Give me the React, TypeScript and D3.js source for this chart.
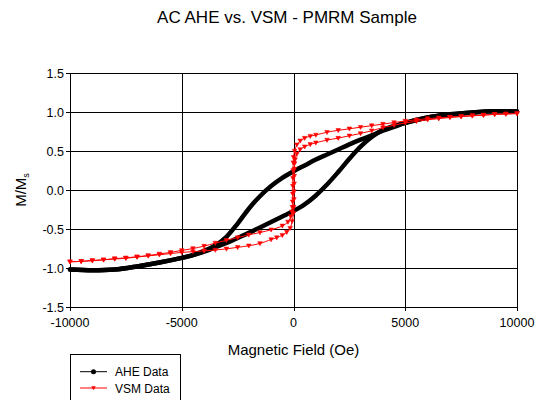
import React from "react";
import * as d3 from "d3";

const title = "AC AHE vs. VSM - PMRM Sample";
const xTicks = [-10000, -5000, 0, 5000, 10000];
const yTicks = [-1.5, -1.0, -0.5, 0.0, 0.5, 1.0, 1.5];

// AHE data: descending branch (field from +10000 to -10000)
const aheDownH = [10000, 9000, 8000, 7000, 6000, 5000, 4500, 4000, 3500, 3000, 2500, 2000, 1500, 1000, 500, 0, -500, -1000, -1500, -2000, -2500, -3000, -3500, -4000, -4500, -5000, -6000, -7000, -8000, -9000, -10000];
const aheDownM = [1.005, 1.01, 0.995, 0.97, 0.93, 0.86, 0.81, 0.76, 0.7, 0.645, 0.585, 0.52, 0.455, 0.39, 0.315, 0.24, 0.155, 0.05, -0.08, -0.24, -0.43, -0.6, -0.71, -0.78, -0.835, -0.87, -0.93, -0.98, -1.02, -1.03, -1.02];
// AHE data: ascending branch (field from -10000 to +10000)
const aheUpH = [-10000, -9000, -8000, -7000, -6000, -5000, -4500, -4000, -3500, -3000, -2500, -2000, -1500, -1000, -500, 0, 500, 1000, 1500, 2000, 2500, 3000, 3500, 4000, 4500, 5000, 6000, 7000, 8000, 9000, 10000];
const aheUpM = [-1.02, -1.03, -1.02, -0.98, -0.93, -0.87, -0.835, -0.79, -0.735, -0.68, -0.615, -0.55, -0.48, -0.41, -0.34, -0.27, -0.185, -0.07, 0.07, 0.23, 0.4, 0.555, 0.68, 0.77, 0.82, 0.86, 0.93, 0.97, 0.995, 1.01, 1.005];

// VSM data: descending branch
const vsmDownH = [10000, 9500, 9000, 8500, 8000, 7500, 7000, 6500, 6000, 5500, 5000, 4500, 4000, 3500, 3000, 2500, 2000, 1500, 1000, 750, 500, 300, 150, 50, 0, -10, -20, -25, -30, -35, -40, -50, -70, -120, -250, -500, -1000, -1500, -2000, -2500, -3000, -3500, -4000, -4500, -5000, -5500, -6000, -6500, -7000, -7500, -8000, -8500, -9000, -9500, -10000];
const vsmDownM = [0.98, 0.975, 0.97, 0.96, 0.955, 0.945, 0.935, 0.925, 0.915, 0.9, 0.885, 0.865, 0.845, 0.825, 0.805, 0.785, 0.765, 0.74, 0.705, 0.69, 0.665, 0.63, 0.58, 0.5, 0.42, 0.35, 0.25, 0.15, 0.05, -0.05, -0.15, -0.22, -0.28, -0.34, -0.41, -0.46, -0.51, -0.545, -0.575, -0.61, -0.645, -0.68, -0.72, -0.75, -0.775, -0.8, -0.82, -0.84, -0.855, -0.87, -0.88, -0.895, -0.905, -0.915, -0.92];
// VSM data: ascending branch
const vsmUpH = [-10000, -9500, -9000, -8500, -8000, -7500, -7000, -6500, -6000, -5500, -5000, -4500, -4000, -3500, -3000, -2500, -2000, -1500, -1000, -750, -500, -300, -150, -60, 0, 10, 20, 25, 30, 35, 40, 50, 70, 150, 300, 500, 750, 1000, 1500, 2000, 2500, 3000, 3500, 4000, 4500, 5000, 5500, 6000, 6500, 7000, 7500, 8000, 8500, 9000, 9500, 10000];
const vsmUpM = [-0.92, -0.915, -0.905, -0.895, -0.885, -0.875, -0.86, -0.845, -0.83, -0.815, -0.8, -0.79, -0.78, -0.77, -0.755, -0.735, -0.715, -0.685, -0.635, -0.61, -0.58, -0.54, -0.49, -0.4, -0.3, -0.22, -0.12, -0.02, 0.08, 0.18, 0.27, 0.34, 0.39, 0.46, 0.52, 0.555, 0.585, 0.605, 0.64, 0.665, 0.695, 0.725, 0.76, 0.8, 0.83, 0.86, 0.88, 0.9, 0.915, 0.93, 0.94, 0.95, 0.96, 0.97, 0.975, 0.98];

const legendLabels = ["AHE Data", "VSM Data"];

const W = 537;
const H = 400;
const margin = { left: 70, right: 20, top: 73, bottom: 93 };
const FONT = "'Liberation Sans', Arial, sans-serif";

type P = [number, number];

export default function App() {
  const x = d3.scaleLinear().domain([-10000, 10000]).range([margin.left, W - margin.right]);
  const y = d3.scaleLinear().domain([-1.5, 1.5]).range([H - margin.bottom, margin.top]);
  const line = d3
    .line<P>()
    .x((d) => x(d[0]))
    .y((d) => y(d[1]))
    .curve(d3.curveCatmullRom.alpha(0.5));

  const zip = (a: number[], b: number[]): P[] => a.map((v, i) => [v, b[i]]);
  const aheDown = zip(aheDownH, aheDownM);
  const aheUp = zip(aheUpH, aheUpM);
  const vsmDown = zip(vsmDownH, vsmDownM);
  const vsmUp = zip(vsmUpH, vsmUpM);

  const tri = (cx: number, cy: number) =>
    `M${cx - 2.3},${cy - 1.8}L${cx + 2.3},${cy - 1.8}L${cx},${cy + 2.3}Z`;

  const x0 = margin.left;
  const x1 = W - margin.right;
  const y0 = margin.top;
  const y1 = H - margin.bottom;

  return (
    <svg
      width={W}
      height={H}
      style={{ position: "absolute", left: 0, top: 0, background: "#fff" }}
      fontFamily={FONT}
    >
      <text x={287} y={22.7} textAnchor="middle" fontSize={17} fill="#000">
        {title}
      </text>

      {/* grid */}
      <g shapeRendering="crispEdges" stroke="#000" strokeWidth={1}>
        {yTicks.map((t) => (
          <line key={"gy" + t} x1={x0 - 4} x2={x1} y1={Math.round(y(t)) + 0.5} y2={Math.round(y(t)) + 0.5} />
        ))}
        {xTicks.map((t) => (
          <line key={"gx" + t} x1={Math.round(x(t)) + 0.5} x2={Math.round(x(t)) + 0.5} y1={y0} y2={y1 + 4} />
        ))}
      </g>

      {/* y tick labels */}
      {yTicks.map((t) => (
        <text key={"ty" + t} x={64} y={y(t) + 4.8} textAnchor="end" fontSize={12.5} fill="#000">
          {t.toFixed(1)}
        </text>
      ))}
      {/* x tick labels */}
      {xTicks.map((t) => (
        <text key={"tx" + t} x={x(t)} y={326.5} textAnchor="middle" fontSize={12.5} fill="#000">
          {String(t)}
        </text>
      ))}

      <text x={(x0 + x1) / 2} y={355} textAnchor="middle" fontSize={15} fill="#000">
        Magnetic Field (Oe)
      </text>
      <text transform={`translate(25.5,${(y0 + y1) / 2}) rotate(-90)`} textAnchor="middle" fontSize={15} fill="#000">
        M/M<tspan fontSize={9} dy={3}>s</tspan>
      </text>

      {/* AHE */}
      <g>
        <path d={line(aheDown) || ""} fill="none" stroke="#000" strokeWidth={4.5} strokeLinejoin="round" strokeLinecap="round" />
        <path d={line(aheUp) || ""} fill="none" stroke="#000" strokeWidth={4.5} strokeLinejoin="round" strokeLinecap="round" />
      </g>

      {/* VSM */}
      <g>
        <path d={line(vsmDown) || ""} fill="none" stroke="#ff0000" strokeWidth={1} />
        <path d={line(vsmUp) || ""} fill="none" stroke="#ff0000" strokeWidth={1} />
        {vsmDown.concat(vsmUp).map((d, i) => (
          <path key={"m" + i} d={tri(x(d[0]), y(d[1]))} fill="#ff0000" stroke="#ff0000" strokeWidth={0.5} />
        ))}
      </g>

      {/* legend */}
      <rect x={70.5} y={354.5} width={109.5} height={50} fill="#fff" stroke="#000" strokeWidth={1} shapeRendering="crispEdges" />
      <line x1={80} x2={107} y1={371.7} y2={371.7} stroke="#000" strokeWidth={1} />
      <circle cx={93.5} cy={371.7} r={2.5} fill="#000" />
      <text x={115} y={375.7} fontSize={12} fill="#000">
        {legendLabels[0]}
      </text>
      <line x1={80} x2={107} y1={388} y2={388} stroke="#ff0000" strokeWidth={1} />
      <path d={tri(93.5, 388)} fill="#ff0000" />
      <text x={115} y={393.3} fontSize={12} fill="#000">
        {legendLabels[1]}
      </text>
    </svg>
  );
}
